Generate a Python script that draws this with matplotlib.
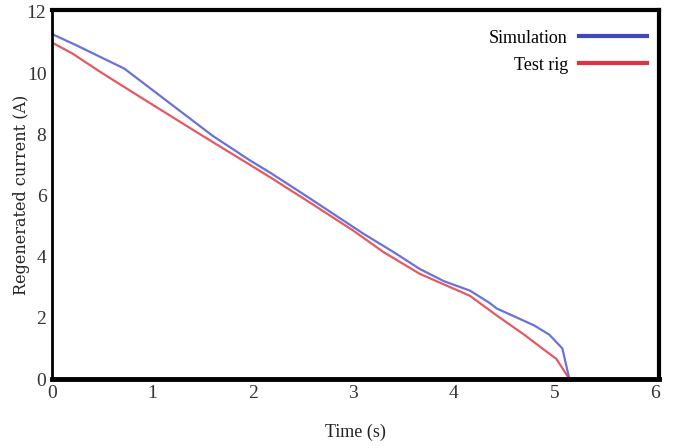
import numpy as np
import matplotlib.pyplot as plt
from matplotlib.lines import Line2D

# regenerated current during braking, simulation vs test rig
t_sim = [0.0, 0.25, 0.5, 0.72, 0.8, 0.9, 1.0, 1.3, 1.6, 1.97, 2.17, 2.5, 2.8,
         3.1, 3.4, 3.66, 3.9, 4.16, 4.35, 4.43, 4.6, 4.8, 4.95, 5.08, 5.15]
i_sim = [11.28, 10.9, 10.5, 10.15, 9.95, 9.7, 9.45, 8.7, 7.95, 7.15, 6.75, 6.05, 5.4,
         4.75, 4.15, 3.6, 3.2, 2.89, 2.5, 2.3, 2.05, 1.75, 1.45, 1.0, 0.0]
t_rig = [0.0, 0.2, 0.5, 1.0, 1.5, 2.17, 2.6, 3.0, 3.3, 3.66, 4.16, 4.43,
         4.7, 4.9, 5.02, 5.15]
i_rig = [11.0, 10.65, 10.0, 8.97, 7.95, 6.6, 5.7, 4.85, 4.15, 3.44, 2.72, 2.07,
         1.45, 0.95, 0.66, 0.0]

xticks = [0, 1, 2, 3, 4, 5, 6]
yticks = [0, 2, 4, 6, 8, 10, 12]

blue = '#5b62d6'
red = '#e2484f'

fig = plt.figure(figsize=(6.75, 4.48), dpi=100)
ax = fig.add_axes([0.077, 0.154, 0.899, 0.824])

ax.plot(t_sim, i_sim, color=blue, lw=1.6, alpha=0.9)
ax.plot(t_rig, i_rig, color=red, lw=1.6, alpha=0.9)

ax.set_xlim(0, 6.04)
ax.set_ylim(0, 12.07)
ax.set_xticks(xticks)
ax.set_yticks(yticks)
ax.tick_params(length=0, pad=4)
for lab in ax.get_xticklabels() + ax.get_yticklabels():
    lab.set_fontfamily('Liberation Serif')
    lab.set_fontsize(14)
    lab.set_color('#333333')

for side, w in [('top', 3.0), ('right', 3.0), ('bottom', 3.5), ('left', 2.0)]:
    ax.spines[side].set_linewidth(w)
    ax.spines[side].set_color('black')

ax.set_xlabel('Time (s)', fontfamily='Liberation Serif', fontsize=13,
              color='#222222', labelpad=16)
ax.set_ylabel('Regenerated current (A)', fontfamily='DejaVu Serif', fontsize=11.5,
              color='#222222')
ax.yaxis.set_label_coords(-0.037, 0.5)

handles = [Line2D([], [], color='#3f48c0', lw=3),
           Line2D([], [], color='#e0333d', lw=3)]
ax.legend(handles, ['Simulation', 'Test rig'], loc='upper right',
          frameon=False, markerfirst=False, handlelength=3.8,
          prop={'family': 'Liberation Serif', 'size': 13},
          bbox_to_anchor=(1.008, 0.99), labelspacing=0.55, handletextpad=0.6)

fig.savefig('out.png', dpi=100)
